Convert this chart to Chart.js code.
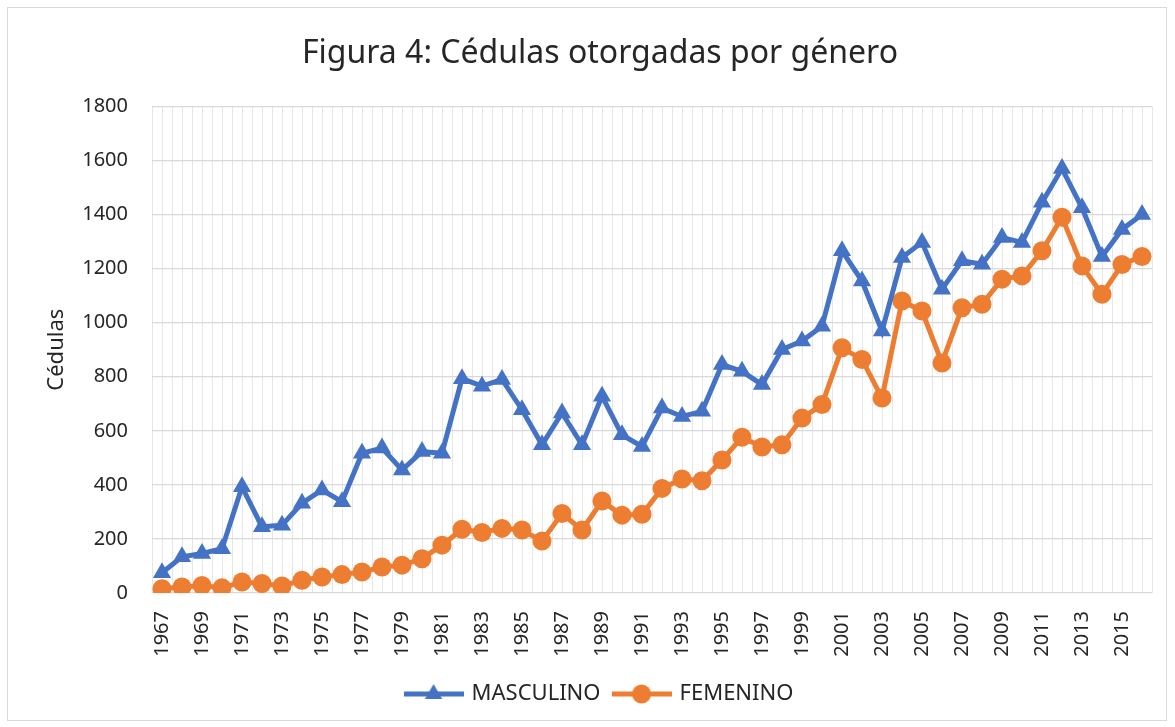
<!DOCTYPE html>
<html>
<head>
<meta charset="utf-8">
<script src="https://cdn.jsdelivr.net/npm/chart.js@4/dist/chart.umd.min.js"></script>
<style>
  html, body { margin: 0; padding: 0; background: #ffffff; }
  #frame { position: absolute; left: 7px; top: 7px; width: 1158px; height: 712px; border: 1px solid #d9d9d9; background: #fff; }
  #c { display: block; }
</style>
</head>
<body>
<div id="frame"><canvas id="c" width="1158" height="712"></canvas></div>
<script>
const years = ['1967','1968','1969','1970','1971','1972','1973','1974','1975','1976',
  '1977','1978','1979','1980','1981','1982','1983','1984','1985','1986',
  '1987','1988','1989','1990','1991','1992','1993','1994','1995','1996',
  '1997','1998','1999','2000','2001','2002','2003','2004','2005','2006',
  '2007','2008','2009','2010','2011','2012','2013','2014','2015','2016'];
const masculino = [75,134,146,164,393,245,251,332,381,338,
  517,536,455,523,517,793,765,790,678,548,
  666,548,728,585,542,684,653,672,845,820,
  771,901,932,987,1266,1154,969,1241,1297,1124,
  1229,1216,1315,1297,1445,1570,1425,1245,1345,1400];
const femenino = [16,22,28,19,41,35,26,47,59,68,
  78,96,103,127,177,236,224,239,233,192,
  294,233,340,288,291,387,422,415,492,576,
  540,548,647,697,907,864,721,1080,1043,851,
  1055,1068,1161,1173,1266,1390,1210,1105,1215,1245];
const yTicks = [0,200,400,600,800,1000,1200,1400,1600,1800];

const BLUE = '#4472C4', ORANGE = '#ED7D31', TEXT = '#262626';
const FONT = "'Noto Sans', 'DejaVu Sans', sans-serif";

function legendIcon(color, style) {
  const cv = document.createElement('canvas');
  cv.width = 60; cv.height = 22;
  const g = cv.getContext('2d');
  g.strokeStyle = color; g.lineWidth = 5;
  g.beginPath(); g.moveTo(0, 11); g.lineTo(60, 11); g.stroke();
  g.fillStyle = color;
  g.beginPath();
  if (style === 'triangle') {
    const r = 10;
    g.moveTo(30, 11 - r);
    g.lineTo(30 + r * Math.sin(2 * Math.PI / 3), 11 + r * 0.5);
    g.lineTo(30 - r * Math.sin(2 * Math.PI / 3), 11 + r * 0.5);
    g.closePath();
  } else {
    g.arc(30, 11, 9.5, 0, Math.PI * 2);
  }
  g.fill();
  return cv;
}
const icons = [legendIcon(BLUE, 'triangle'), legendIcon(ORANGE, 'circle')];

new Chart(document.getElementById('c'), {
  type: 'line',
  data: {
    labels: years,
    datasets: [
      { label: 'MASCULINO', data: masculino, borderColor: BLUE, backgroundColor: BLUE,
        borderWidth: 5, pointStyle: 'triangle', pointRadius: 10.5, pointHoverRadius: 10.5,
        pointBorderWidth: 0, tension: 0 },
      { label: 'FEMENINO', data: femenino, borderColor: ORANGE, backgroundColor: ORANGE,
        borderWidth: 5, pointStyle: 'circle', pointRadius: 9.5, pointHoverRadius: 9.5,
        pointBorderWidth: 0, tension: 0 }
    ]
  },
  options: {
    responsive: false,
    animation: false,
    layout: { padding: { left: 40, right: 14, top: 0, bottom: 5 } },
    plugins: {
      title: {
        display: true, text: 'Figura 4: Cédulas otorgadas por género',
        color: TEXT, font: { family: FONT, size: 32, weight: 'normal' },
        padding: { top: 27, bottom: 33 }
      },
      legend: {
        position: 'bottom',
        labels: {
          color: TEXT, font: { family: FONT, size: 22 },
          usePointStyle: true, pointStyleWidth: 54, boxHeight: 22, padding: 14,
          generateLabels: (chart) => {
            const items = Chart.defaults.plugins.legend.labels.generateLabels(chart);
            items.forEach((it, i) => { it.pointStyle = icons[i]; });
            return items;
          }
        }
      },
      tooltip: { enabled: false }
    },
    scales: {
      x: {
        type: 'category', offset: true, position: 'bottom',
        grid: { display: true, offset: false, color: '#e6e6e6', lineWidth: 1, drawTicks: false },
        border: { display: false },
        ticks: {
          autoSkip: false, minRotation: 90, maxRotation: 90, padding: 18,
          color: TEXT, font: { family: FONT, size: 20 },
          callback: (v, i) => (i % 2 === 0 ? years[i] : '')
        },
        afterFit: (s) => { s.height = 76; s.paddingLeft = 0; s.paddingRight = 0; }
      },
      x2: {
        type: 'category', labels: years, offset: true, position: 'bottom',
        grid: { display: true, offset: true, color: '#e6e6e6', lineWidth: 1, drawTicks: false },
        border: { display: false },
        ticks: { display: false },
        afterFit: (s) => { s.height = 0; s.paddingLeft = 0; s.paddingRight = 0; }
      },
      y: {
        min: 0, max: 1800,
        afterBuildTicks: (s) => { s.ticks = yTicks.map(v => ({ value: v })); },
        grid: { color: '#d9d9d9', lineWidth: 1.3, drawTicks: false },
        border: { display: false },
        ticks: { padding: 24, color: TEXT, font: { family: FONT, size: 20 },
                 callback: (v) => String(v) },
        title: { display: true, text: 'Cédulas', color: TEXT,
                 font: { family: FONT, size: 22, lineHeight: 1.0 }, padding: { top: -2, bottom: 0 } },
        afterFit: (s) => { s.width = 104; }
      }
    }
  }
});
</script>
</body>
</html>
